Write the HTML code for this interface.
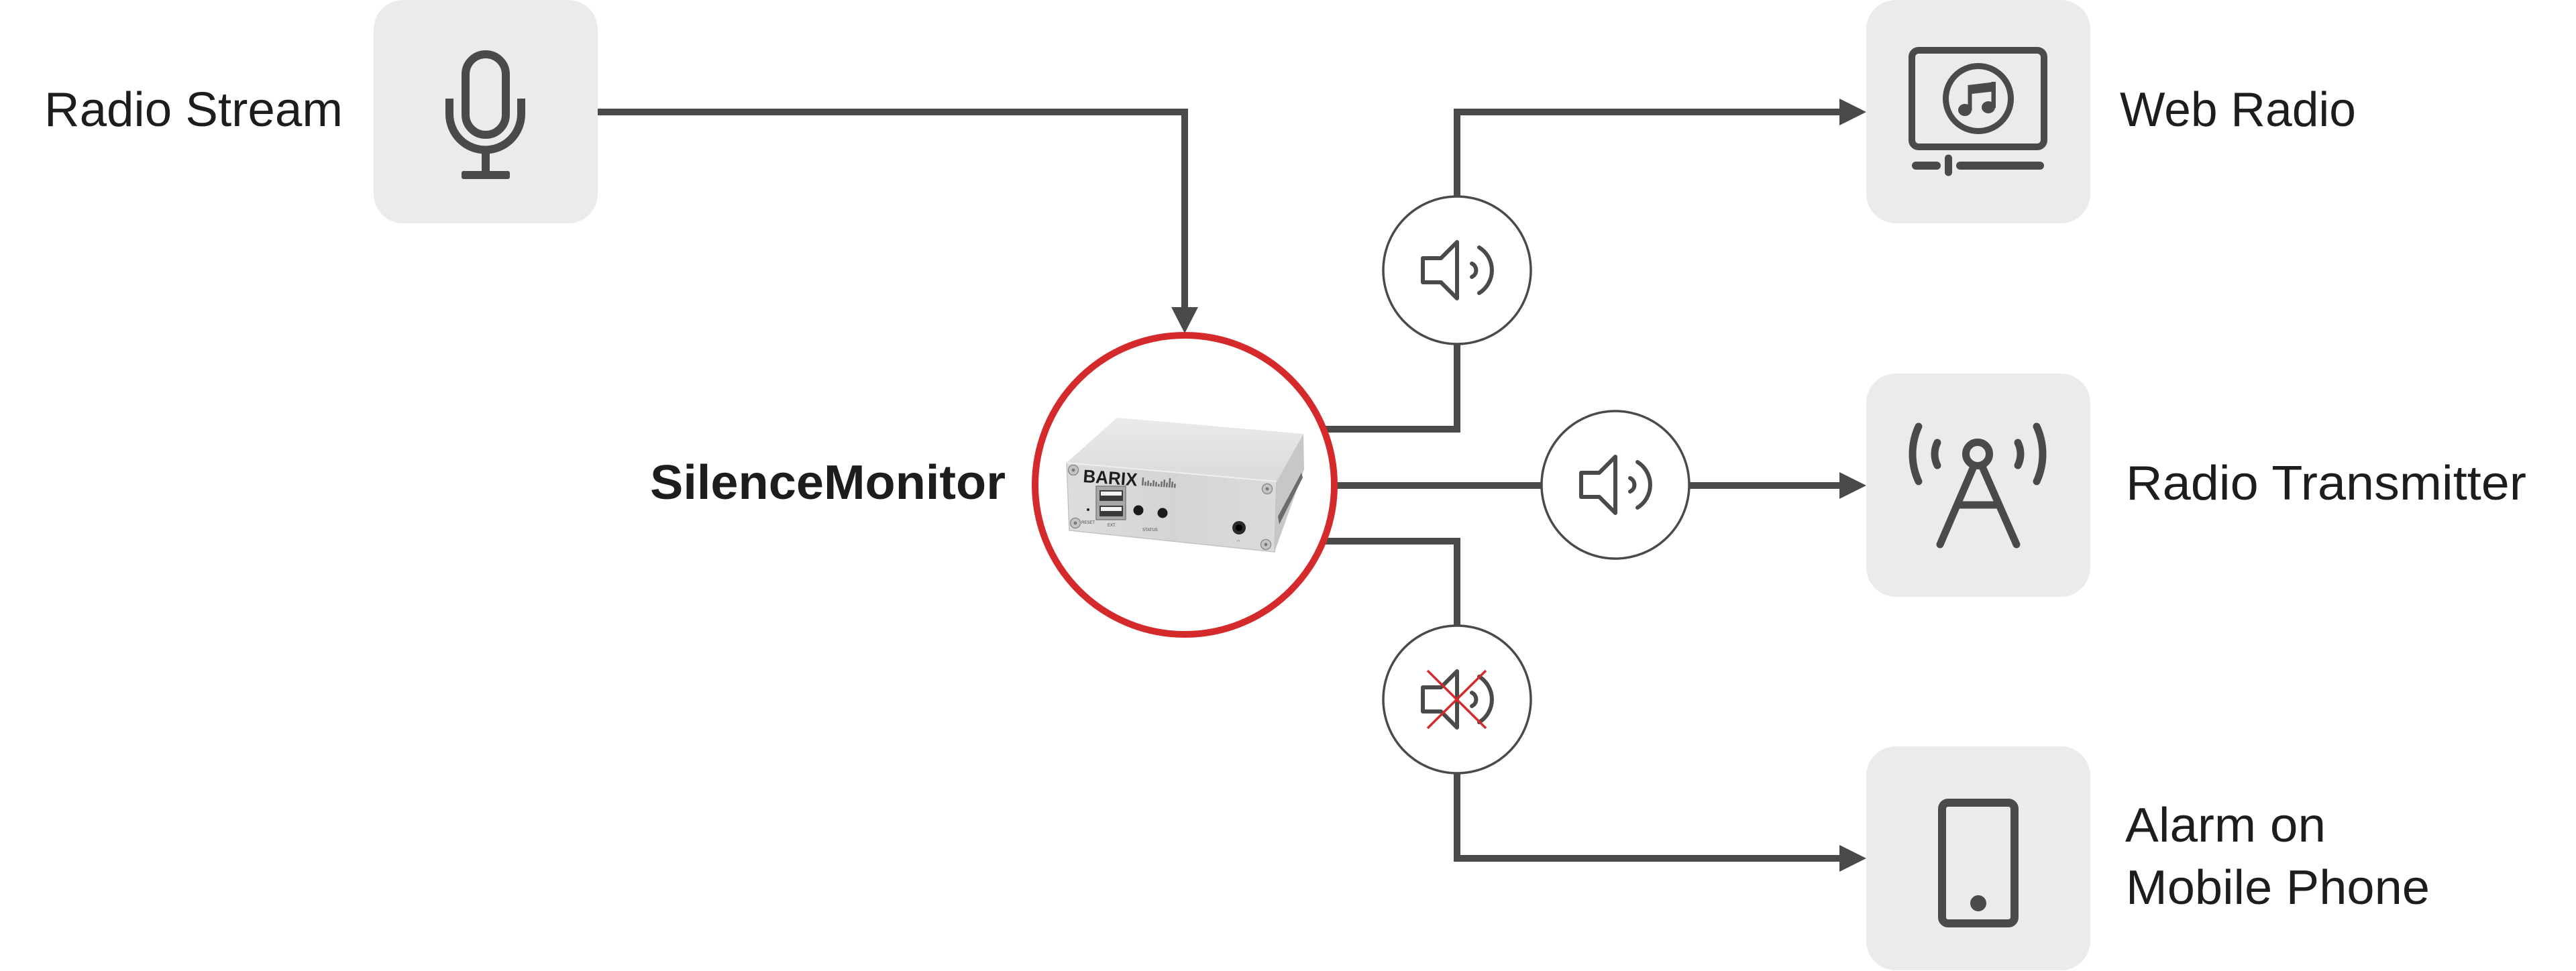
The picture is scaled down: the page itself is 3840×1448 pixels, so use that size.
<!DOCTYPE html>
<html>
<head>
<meta charset="utf-8">
<style>
  html,body{margin:0;padding:0;background:#ffffff;}
  body{width:3840px;height:1448px;overflow:hidden;}
  svg{display:block;}
</style>
</head>
<body>
<svg width="3840" height="1448" viewBox="0 0 3840 1448" xmlns="http://www.w3.org/2000/svg">
  <defs>
    <linearGradient id="topg" x1="0" y1="0" x2="0" y2="1">
      <stop offset="0" stop-color="#e9eae9"/>
      <stop offset="1" stop-color="#d9dbda"/>
    </linearGradient>
    <linearGradient id="frontg" x1="0" y1="0" x2="1" y2="0">
      <stop offset="0" stop-color="#dcdedd"/>
      <stop offset="0.5" stop-color="#d3d5d4"/>
      <stop offset="1" stop-color="#dadcdb"/>
    </linearGradient>
  </defs>

  <rect x="0" y="0" width="3840" height="1448" fill="#ffffff"/>

  <!-- Grey boxes -->
  <rect x="557" y="0" width="334" height="333" rx="44" fill="#ebebea"/>
  <rect x="2782" y="0" width="334" height="333" rx="44" fill="#ebebea"/>
  <rect x="2782" y="557" width="334" height="333" rx="44" fill="#ebebea"/>
  <rect x="2782" y="1113" width="334" height="334" rx="44" fill="#ebebea"/>

  <!-- Connector lines -->
  <g fill="none" stroke="#4a4a49" stroke-width="10" stroke-linejoin="miter">
    <path d="M891,167 H1766 V462"/>
    <path d="M1960,640 H2172 V167 H2746"/>
    <path d="M1960,724 H2746"/>
    <path d="M1960,807 H2172 V1280 H2746"/>
  </g>

  <!-- Speaker circles -->
  <g fill="#ffffff" stroke="#4a4a49" stroke-width="3.5">
    <circle cx="2172" cy="403" r="110"/>
    <circle cx="2408" cy="723" r="110"/>
    <circle cx="2172" cy="1043" r="110"/>
  </g>

  <!-- Red circle -->
  <circle cx="1766" cy="723" r="223" fill="#ffffff" stroke="#d52a2b" stroke-width="10"/>

  <!-- Arrowheads -->
  <g fill="#4a4a49">
    <polygon points="1746,458 1786,458 1766,497"/>
    <polygon points="2742,147 2782,167 2742,187"/>
    <polygon points="2742,704 2782,724 2742,744"/>
    <polygon points="2742,1260 2782,1280 2742,1300"/>
  </g>

  <!-- Speaker icons -->
  <g fill="none" stroke="#4a4a49" stroke-width="6" stroke-linejoin="round" stroke-linecap="round">
    <g transform="translate(2172,403)">
      <path d="M-24,-18 L0,-42 L0,42 L-24,18 L-51,18 L-51,-18 Z"/>
      <path d="M22,-10 A11,11 0 0 1 22,10"/>
      <path d="M33,-34 A40,40 0 0 1 33,34"/>
    </g>
    <g transform="translate(2408,723)">
      <path d="M-24,-18 L0,-42 L0,42 L-24,18 L-51,18 L-51,-18 Z"/>
      <path d="M22,-10 A11,11 0 0 1 22,10"/>
      <path d="M33,-34 A40,40 0 0 1 33,34"/>
    </g>
    <g transform="translate(2172,1043)">
      <path d="M-24,-18 L0,-42 L0,42 L-24,18 L-51,18 L-51,-18 Z"/>
      <path d="M22,-10 A11,11 0 0 1 22,10"/>
      <path d="M33,-34 A40,40 0 0 1 33,34"/>
    </g>
  </g>
  <!-- Red X over muted speaker -->
  <g stroke="#d52a2b" stroke-width="3.5" stroke-linecap="butt">
    <line x1="2128" y1="1000" x2="2215" y2="1086"/>
    <line x1="2215" y1="1000" x2="2128" y2="1086"/>
  </g>

  <!-- Microphone icon -->
  <g fill="none" stroke="#4a4a49" stroke-width="12">
    <rect x="694" y="81" width="60" height="120" rx="30"/>
    <path d="M670,147 V170 A53.5,53.5 0 0 0 777,170 V147" stroke-linecap="butt"/>
    <line x1="724" y1="226" x2="724" y2="258"/>
  </g>
  <rect x="688" y="255" width="72" height="12" rx="3" fill="#4a4a49"/>

  <!-- Web Radio icon -->
  <g fill="none" stroke="#4a4a49">
    <rect x="2850" y="75" width="197" height="144" rx="10" stroke-width="10"/>
    <circle cx="2949" cy="147" r="48.5" stroke-width="9"/>
    <line x1="2856" y1="247" x2="2887" y2="247" stroke-width="12" stroke-linecap="round"/>
    <line x1="2922" y1="247" x2="3041" y2="247" stroke-width="12" stroke-linecap="round"/>
    <line x1="2904.5" y1="236" x2="2904.5" y2="257" stroke-width="11" stroke-linecap="round"/>
  </g>
  <g fill="#4a4a49">
    <polygon points="2933,127 2975,122 2975,136 2939,140"/>
    <rect x="2933.5" y="127" width="6" height="38"/>
    <rect x="2968.5" y="122" width="6.5" height="39"/>
    <ellipse cx="2929" cy="164" rx="10" ry="9"/>
    <ellipse cx="2964" cy="160" rx="10" ry="9"/>
  </g>

  <!-- Radio Transmitter icon -->
  <g fill="none" stroke="#4a4a49" stroke-width="11" stroke-linecap="round">
    <circle cx="2948" cy="677" r="17.5"/>
    <line x1="2942" y1="696" x2="2892" y2="812"/>
    <line x1="2955" y1="696" x2="3006" y2="812"/>
    <line x1="2920" y1="753" x2="2978" y2="753" stroke-linecap="butt"/>
    <path d="M2888,660 A38,38 0 0 0 2888,694"/>
    <path d="M2860,636 A98,98 0 0 0 2860,718"/>
    <path d="M3008,660 A38,38 0 0 1 3008,694"/>
    <path d="M3036,636 A98,98 0 0 1 3036,718"/>
  </g>

  <!-- Mobile phone icon -->
  <rect x="2895" y="1197" width="108" height="180" rx="9" fill="none" stroke="#4a4a49" stroke-width="12"/>
  <circle cx="2949" cy="1347" r="12" fill="#4a4a49"/>

  <!-- Barix device -->
  <g>
    <polygon points="1590,690 1665,623 1943,647 1903,718" fill="url(#topg)"/>
    <polygon points="1903,718 1943,647 1944,700 1900,823" fill="#c6c8c7"/>
    <polygon points="1905,770 1940,705 1942,712 1907,782" fill="#6a6c6b"/>
    <polygon points="1590,690 1903,718 1900,823 1594,791" fill="url(#frontg)" stroke="#c2c4c3" stroke-width="1.5"/>
    <line x1="1590" y1="690" x2="1903" y2="718" stroke="#eef0ef" stroke-width="2"/>
    <!-- screws -->
    <g fill="#c4c6c5" stroke="#8d8f8e" stroke-width="1.5">
      <circle cx="1600" cy="701" r="7.5"/>
      <circle cx="1889" cy="729" r="7.5"/>
      <circle cx="1603" cy="780" r="7.5"/>
      <circle cx="1887" cy="812" r="7.5"/>
    </g>
    <g fill="#7a7c7b">
      <circle cx="1600" cy="701" r="2.5"/>
      <circle cx="1889" cy="729" r="2.5"/>
      <circle cx="1603" cy="780" r="2.5"/>
      <circle cx="1887" cy="812" r="2.5"/>
    </g>
    <!-- logo -->
    <text x="1614" y="719" font-family="Liberation Sans, sans-serif" font-weight="bold" font-size="27" fill="#1e1e1e" textLength="81" lengthAdjust="spacingAndGlyphs" transform="rotate(4 1614 719)">BARIX</text>
    <g fill="#6d6f6e" transform="rotate(4 1702 724)">
      <rect x="1702" y="712" width="2.5" height="12"/>
      <rect x="1706" y="718" width="2.5" height="6"/>
      <rect x="1710" y="716" width="2.5" height="8"/>
      <rect x="1714" y="719" width="2.5" height="5"/>
      <rect x="1718" y="715" width="2.5" height="9"/>
      <rect x="1722" y="717" width="2.5" height="7"/>
      <rect x="1726" y="720" width="2.5" height="4"/>
      <rect x="1730" y="716" width="2.5" height="8"/>
      <rect x="1734" y="713" width="2.5" height="11"/>
      <rect x="1738" y="717" width="2.5" height="7"/>
      <rect x="1742" y="710" width="2.5" height="14"/>
      <rect x="1746" y="715" width="2.5" height="9"/>
      <rect x="1750" y="718" width="2.5" height="6"/>
    </g>
    <!-- USB -->
    <rect x="1634" y="725" width="44" height="50" fill="#a6a8a7" stroke="#7e807f" stroke-width="1.5"/>
    <rect x="1639" y="731" width="35" height="16" fill="#3a3a3a"/>
    <rect x="1641" y="733" width="31" height="6" fill="#f2f2f2"/>
    <rect x="1639" y="754" width="35" height="16" fill="#3a3a3a"/>
    <rect x="1641" y="756" width="31" height="6" fill="#f2f2f2"/>
    <!-- reset, buttons, jack -->
    <circle cx="1622" cy="760" r="2" fill="#222"/>
    <circle cx="1697" cy="761" r="7.5" fill="#1a1a1a"/>
    <circle cx="1733" cy="765" r="7.5" fill="#1a1a1a"/>
    <circle cx="1847" cy="787" r="10" fill="#2a2a2a"/>
    <circle cx="1847" cy="787" r="5" fill="#000"/>
    <g font-family="Liberation Sans, sans-serif" font-size="6" fill="#444">
      <text x="1612" y="781">RESET</text>
      <text x="1651" y="785">EXT.</text>
      <text x="1703" y="792">STATUS</text>
      <text x="1844" y="808">∩</text>
    </g>
  </g>

  <!-- Labels -->
  <g font-family="Liberation Sans, sans-serif" font-size="72" fill="#1d1d1b">
    <text x="66" y="188" textLength="445" lengthAdjust="spacingAndGlyphs">Radio Stream</text>
    <text x="3160" y="188" textLength="352" lengthAdjust="spacingAndGlyphs">Web Radio</text>
    <text x="3169" y="745" textLength="597" lengthAdjust="spacingAndGlyphs">Radio Transmitter</text>
    <text x="3168" y="1255" textLength="299" lengthAdjust="spacingAndGlyphs">Alarm on</text>
    <text x="3169" y="1348" textLength="453" lengthAdjust="spacingAndGlyphs">Mobile Phone</text>
    <text x="969" y="744" font-weight="bold" textLength="530" lengthAdjust="spacingAndGlyphs">SilenceMonitor</text>
  </g>
</svg>
</body>
</html>
